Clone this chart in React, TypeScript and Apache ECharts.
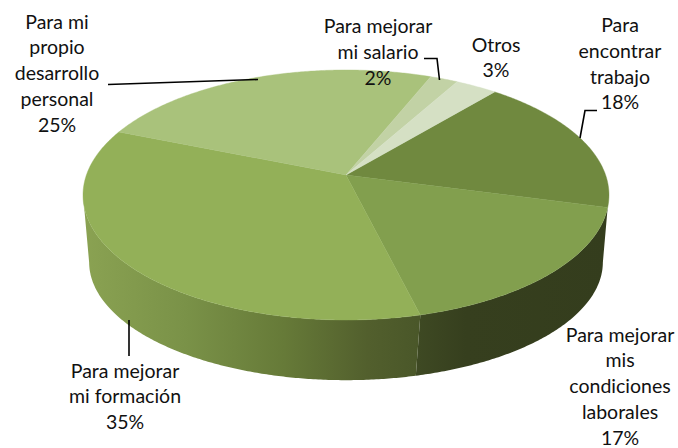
import React, { useEffect, useRef } from "react";
import * as echarts from "echarts";

const categories = [
  "Para\nencontrar\ntrabajo",
  "Para mejorar\nmis\ncondiciones\nlaborales",
  "Para mejorar\nmi formación",
  "Para mi\npropio\ndesarrollo\npersonal",
  "Para mejorar\nmi salario",
  "Otros",
];
const values = [18, 17, 35, 25, 2, 3];
const topColors = ["#70893f", "#829f4e", "#93b058", "#a9c27b", "#c2d2a5", "#d5e0c4"];

const START_DEG = 40;
const TOTAL = values.reduce((a, b) => a + b, 0);
const top = { cx: 346, cy: 175, R: 259.6, A: 121.8, k: 0.16 };
const base = { cx: 346, cy: 248, R: 255, A: 116.3, k: 0.12 };
const WALL_FROM = 97;
const WALL_TO = 263;
const TOP_TO = 261;

type Disc = typeof top;
const project = (d: Disc, deg: number) => {
  const r = (deg * Math.PI) / 180;
  const u = Math.sin(r);
  const v = -Math.cos(r);
  const s = 1 / (1 - d.k * v);
  return [d.cx + d.R * u * s, d.cy + d.A * v * s];
};
const arc = (d: Disc, a: number, b: number) => {
  const n = Math.max(1, Math.ceil(Math.abs(b - a) * 2));
  const pts: number[][] = [];
  for (let i = 0; i <= n; i++) pts.push(project(d, a + ((b - a) * i) / n));
  return pts;
};
const toPath = (pts: number[][]) =>
  pts.map((p, i) => `${i ? "L" : "M"}${p[0].toFixed(2)} ${p[1].toFixed(2)}`).join(" ") + " Z";
const sliceRange = (idx: number) => {
  let sum = 0;
  for (let i = 0; i < idx; i++) sum += values[i];
  return [START_DEG + (sum / TOTAL) * 360, START_DEG + ((sum + values[idx]) / TOTAL) * 360];
};

const wallFills: Record<number, any> = {
  1: {
    type: "linear", x: 418, y: 0, x2: 610, y2: 0, global: true,
    colorStops: [
      { offset: 0, color: "#3e4923" },
      { offset: 0.25, color: "#363f1e" },
      { offset: 1, color: "#343d1d" },
    ],
  },
  2: {
    type: "linear", x: 84, y: 0, x2: 418, y2: 0, global: true,
    colorStops: [
      { offset: 0, color: "#8aa252" },
      { offset: 0.3, color: "#7a9248" },
      { offset: 0.6, color: "#667a38" },
      { offset: 0.85, color: "#525f2d" },
      { offset: 1, color: "#4a5729" },
    ],
  },
};

// Centre of each label's first line
const labelAnchors = [
  [620, 24.5], [620, 334], [125, 370], [57, 21], [378, 25.5], [496, 44],
];
const leaders = [
  [[597, 110.5], [585, 110.5], [580, 138]],
  [[108, 84.5], [258, 79.5]],
  [[424, 58.5], [437, 58.5], [439.5, 80]],
  [[129, 320], [129, 356]],
];
const FONT = "Lato";
const FONT_SIZE = 19.5;
const LINE_H = 25.8;

const textStyle = {
  fill: "#111",
  font: `${FONT_SIZE}px ${FONT}`,
  align: "center",
  verticalAlign: "middle",
};

export default function App() {
  const ref = useRef<HTMLDivElement>(null);
  useEffect(() => {
    document.body.style.margin = "0";
    const chart = echarts.init(ref.current!, null, { renderer: "svg" });
    chart.setOption({
      animation: false,
      backgroundColor: "#fff",
      series: [
        {
          type: "custom",
          coordinateSystem: "none",
          silent: true,
          data: values.map((v) => [v]),
          renderItem: (params: any) => {
            const i = params.dataIndex;
            const [a0, a1] = sliceRange(i);
            const mid = (a0 + a1) / 2;
            if (mid < WALL_FROM || mid > TOP_TO) return { type: "group", children: [] };
            const topPts = arc(top, a0, Math.min(a1, TOP_TO));
            const bottomFrom = a0 < WALL_FROM + 15 ? WALL_FROM : a0;
            const bottomPts = arc(base, Math.min(a1, WALL_TO), bottomFrom);
            return {
              type: "path",
              shape: { pathData: toPath([...topPts, ...bottomPts]) },
              style: { fill: wallFills[i] ?? "#444" },
            };
          },
        },
        {
          type: "custom",
          coordinateSystem: "none",
          silent: true,
          data: values.map((v) => [v]),
          renderItem: (params: any) => {
            const i = params.dataIndex;
            const [a0, a1] = sliceRange(i);
            return {
              type: "path",
              shape: { pathData: toPath([[top.cx, top.cy], ...arc(top, a0, a1)]) },
              style: { fill: topColors[i], stroke: topColors[i], lineWidth: 0.4 },
            };
          },
        },
      ],
      graphic: [
        ...leaders.map((points) => ({
          type: "polyline",
          shape: { points },
          style: { stroke: "#000", lineWidth: 1.6, fill: "none" },
          silent: true,
          z: 10,
        })),
        ...categories.flatMap((c, i) => {
          const lines = c.split("\n");
          return [...lines, `${values[i]}%`].map((line, j) => ({
            type: "text",
            x: labelAnchors[i][0],
            y: labelAnchors[i][1] + j * LINE_H,
            silent: true,
            z: 11,
            style: { ...textStyle, text: line },
          }));
        }),
      ],
    });
    return () => chart.dispose();
  }, []);
  return <div ref={ref} style={{ width: 678, height: 448 }} />;
}
